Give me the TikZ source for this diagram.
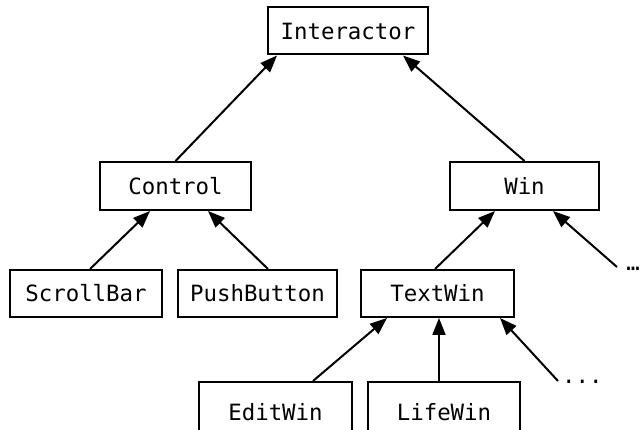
\documentclass[tikz,border=0pt]{standalone}
\usepackage{fontspec}
\setmonofont{DejaVu Sans Mono}
\usetikzlibrary{arrows.meta}
\begin{document}
\begin{tikzpicture}[x=1pt,y=-1pt,
  cls/.style={draw, line width=2pt, inner sep=0pt, minimum height=47pt,
    font=\ttfamily\fontsize{22.4}{26}\selectfont},
  inh/.style={line width=2pt, -{Triangle[length=17pt,width=13pt]}},
  more/.style={inner sep=0pt, font=\ttfamily\fontsize{22.4}{26}\selectfont}]
\useasboundingbox (0,0) rectangle (643,430);
\clip (0,0) rectangle (643,430);
\fill[white] (0,0) rectangle (643,430);

% class boxes
\node[cls, minimum width=160pt] (intr) at (348,31) {Interactor};
\node[cls, minimum width=151pt, minimum height=48pt] (ctl) at (175.5,186) {Control};
\node[cls, minimum width=149pt, minimum height=48pt] (win) at (524.5,186) {Win};
\node[cls, minimum width=152pt] (sb) at (86,293.5) {ScrollBar};
\node[cls, minimum width=159pt] (pb) at (257.5,293.5) {PushButton};
\node[cls, minimum width=153pt] (tw) at (437.5,293.5) {TextWin};
\node[cls, minimum width=153pt, minimum height=60pt] (ew) at (275.5,412) {EditWin};
\node[cls, minimum width=152pt, minimum height=60pt] (lw) at (444,412) {LifeWin};

% elided subclasses
\node[more, anchor=base east] (more1) at (640,271) {…};
\node[more, anchor=base west] (more2) at (562,384) {...};
\coordinate (m1) at (617,267);
\coordinate (m2) at (558,381);

% inheritance arrows
\draw[inh] (ctl.north) -- ([xshift=-71pt]intr.south);
\draw[inh] (win.north) -- ([xshift=55pt]intr.south);
\draw[inh] ([xshift=4pt]sb.north) -- ([xshift=-25.5pt]ctl.south);
\draw[inh] ([xshift=10.5pt]pb.north) -- ([xshift=32.5pt]ctl.south);
\draw[inh] ([xshift=-2.5pt]tw.north) -- ([xshift=-29.5pt]win.south);
\draw[inh] (m1) -- ([xshift=28.5pt]win.south);
\draw[inh] ([xshift=37.5pt]ew.north) -- ([xshift=-50.5pt]tw.south);
\draw[inh] ([xshift=-5pt]lw.north) -- ([xshift=1.5pt]tw.south);
\draw[inh] (m2) -- ([xshift=62.5pt]tw.south);
\end{tikzpicture}
\end{document}
